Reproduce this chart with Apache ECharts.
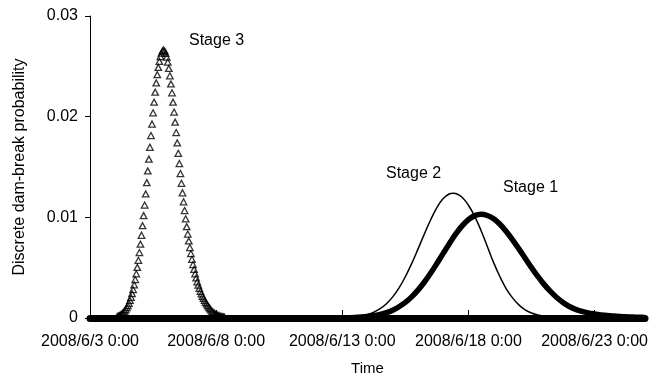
<!DOCTYPE html>
<html>
<head>
<meta charset="utf-8">
<script src="https://cdn.jsdelivr.net/npm/echarts@6/dist/echarts.min.js"></script>
<style>
  html, body { margin: 0; padding: 0; background: #fff; }
  #chart { width: 649px; height: 378px; }
</style>
</head>
<body>
<div id="chart"></div>
<script>
// Time axis in hours from 2008/6/3 0:00
const xTickLabels = ['2008/6/3 0:00', '2008/6/8 0:00', '2008/6/13 0:00', '2008/6/18 0:00', '2008/6/23 0:00'];
const yTickLabels = ['0', '0.01', '0.02', '0.03'];
const seriesNames = ['Stage 1', 'Stage 2', 'Stage 3'];

// Stage 3: hourly values starting at hour 26
const stage3StartHour = 26;
const stage3Values = [
  0.00015, 0.00019, 0.00024, 0.00030, 0.00037, 0.00046, 0.00057, 0.00069, 0.00084, 0.00102,
  0.00122, 0.00146, 0.00174, 0.00206, 0.00242, 0.00283, 0.00330, 0.00382, 0.00439, 0.00503,
  0.00573, 0.00650, 0.00733, 0.00822, 0.00917, 0.01017, 0.01122, 0.01232, 0.01345, 0.01461,
  0.01578, 0.01696, 0.01812, 0.01927, 0.02038, 0.02144, 0.02243, 0.02335, 0.02417, 0.02489,
  0.02549, 0.02597, 0.02632, 0.02653, 0.02660, 0.02652, 0.02629, 0.02591, 0.02541, 0.02479,
  0.02406, 0.02325, 0.02237, 0.02144, 0.02046, 0.01945, 0.01842, 0.01739, 0.01636, 0.01534,
  0.01435, 0.01338, 0.01244, 0.01154, 0.01067, 0.00985, 0.00907, 0.00834, 0.00765, 0.00700,
  0.00640, 0.00583, 0.00531, 0.00483, 0.00439, 0.00398, 0.00360, 0.00326, 0.00294, 0.00265,
  0.00239, 0.00215, 0.00194, 0.00174, 0.00156, 0.00140, 0.00124, 0.00109, 0.00093, 0.00080,
  0.00068, 0.00058, 0.00049, 0.00042, 0.00035, 0.00030, 0.00025, 0.00021, 0.00017, 0.00014,
  0.00012, 0.00010, 0.00008
];

// Stage 2: hours and values
const stage2Hours = [228, 240, 246, 252, 258, 264, 270, 276, 282, 288, 294, 300, 306, 312, 318, 324, 330, 336, 342, 345,
  348, 354, 360, 366, 372, 378, 384, 390, 396, 402, 408, 414, 420, 426, 432, 438, 444, 456];
const stage2Values = [0, 0.00003, 0.00006, 0.00011, 0.00020, 0.00034, 0.00057, 0.00092, 0.00142, 0.00210, 0.00299, 0.00410,
  0.00540, 0.00684, 0.00832, 0.00974, 0.01096, 0.01186, 0.01234, 0.01240,
  0.01236, 0.01200, 0.01120, 0.01010, 0.00870, 0.00710, 0.00550, 0.00410, 0.00290, 0.00200, 0.00130, 0.00080,
  0.00050, 0.00030, 0.00015, 0.00008, 0.00004, 0];

// Stage 1: 6-hourly values
const stage1Hours = [228, 240, 246, 252, 258, 264, 270, 276, 282, 288, 294, 300, 306, 312, 318, 324, 330, 336, 342, 348, 354,
  360, 366, 372, 378, 384, 390, 396, 402, 408, 414, 420, 426, 432, 438, 444, 450, 456, 462, 468, 474, 480, 486,
  492, 498, 504, 510, 516, 522, 528];
const stage1Values = [0, 0.00002, 0.00003, 0.00005, 0.00009, 0.00015, 0.00023, 0.00036, 0.00053, 0.00078, 0.00112, 0.00155,
  0.00210, 0.00277, 0.00355, 0.00444, 0.00541, 0.00642, 0.00741, 0.00835, 0.00915, 0.00977, 0.01017, 0.01030,
  0.01018, 0.00985, 0.00931, 0.00860, 0.00777, 0.00687, 0.00594, 0.00501, 0.00414, 0.00334, 0.00264, 0.00204,
  0.00154, 0.00114, 0.00086, 0.00066, 0.00051, 0.00040, 0.00031, 0.00024, 0.00019, 0.00015, 0.00012, 0.00009,
  0.00007, 0.00005];

const FONT = "'Liberation Sans', Arial, sans-serif";
const chart = echarts.init(document.getElementById('chart'), null, { renderer: 'canvas' });

const stage3Data = stage3Values.map((v, i) => [stage3StartHour + i, v]);
const stage2Data = stage2Hours.map((h, i) => [h, stage2Values[i]]);
const stage1Data = stage1Hours.map((h, i) => [h, stage1Values[i]]);

chart.setOption({
  animation: false,
  backgroundColor: '#fff',
  grid: { left: 90, right: 4, top: 16, bottom: 60, containLabel: false, outerBoundsMode: 'none' },
  xAxis: {
    type: 'value', min: 0, max: 528, interval: 120,
    name: 'Time', nameLocation: 'middle', nameGap: 43,
    nameTextStyle: { color: '#000', fontFamily: FONT, fontSize: 15 },
    axisLine: { show: true, onZero: false, lineStyle: { color: '#000', width: 7 } },
    axisTick: { show: true, inside: true, length: 8, lineStyle: { color: '#000', width: 1 } },
    axisLabel: {
      color: '#000', fontFamily: FONT, fontSize: 16, margin: 16,
      formatter: v => xTickLabels[Math.round(v / 120)] || ''
    },
    splitLine: { show: false }
  },
  yAxis: {
    type: 'value', min: 0, max: 0.03, interval: 0.01,
    name: 'Discrete dam-break probability', nameLocation: 'middle', nameGap: 62,
    nameTextStyle: { color: '#000', fontFamily: FONT, fontSize: 16 },
    axisLine: { show: true, lineStyle: { color: '#000', width: 1 } },
    axisTick: { show: true, inside: false, length: 5, lineStyle: { color: '#000', width: 1 } },
    axisLabel: {
      color: '#000', fontFamily: FONT, fontSize: 16, margin: 12,
      formatter: v => yTickLabels[Math.round(v / 0.01)] || ''
    },
    splitLine: { show: false }
  },
  series: [
    {
      name: seriesNames[0], type: 'line', data: stage1Data, smooth: 0.4,
      showSymbol: false, lineStyle: { color: '#000', width: 5.5 }, z: 3
    },
    {
      name: seriesNames[1], type: 'line', data: stage2Data, smooth: 0.4,
      showSymbol: false, lineStyle: { color: '#000', width: 1.5 }, z: 4
    },
    {
      name: seriesNames[2], type: 'scatter', data: stage3Data,
      symbol: 'triangle', symbolSize: [6.5, 6],
      itemStyle: { color: 'rgba(255,255,255,0)', borderColor: '#000', borderWidth: 1.3 }, z: 5
    }
  ],
  graphic: [
    { type: 'text', left: 189, top: 33, style: { text: seriesNames[2], fill: '#000', font: '16px ' + FONT } },
    { type: 'text', left: 386, top: 166, style: { text: seriesNames[1], fill: '#000', font: '16px ' + FONT } },
    { type: 'text', left: 503, top: 180, style: { text: seriesNames[0], fill: '#000', font: '16px ' + FONT } }
  ]
});
</script>
</body>
</html>
